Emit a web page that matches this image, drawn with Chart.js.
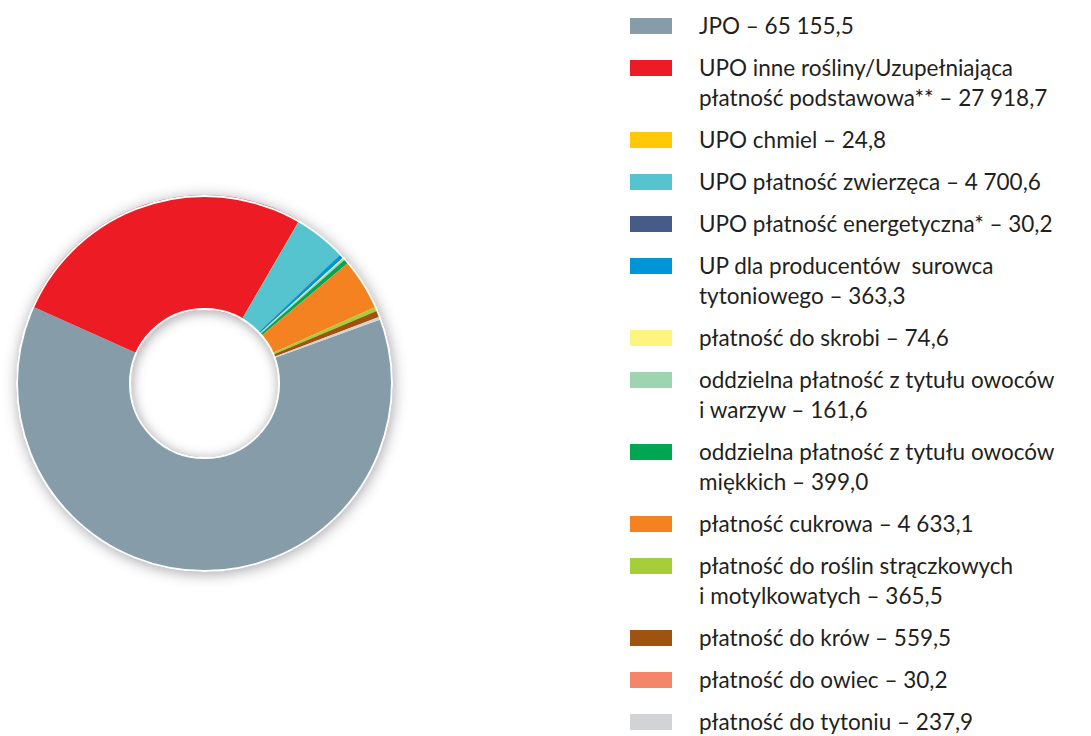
<!DOCTYPE html>
<html lang="pl">
<head>
<meta charset="utf-8">
<script src="https://cdn.jsdelivr.net/npm/chart.js@4/dist/chart.umd.min.js"></script>
<style>
  html, body { margin: 0; padding: 0; background: #ffffff; }
  body { width: 1091px; height: 736px; position: relative; overflow: hidden; }
  #chartBox { position: absolute; left: 0; top: 170px; width: 420px; height: 430px; }
  #legend { position: absolute; left: 630px; top: 11px; font-family: Lato, sans-serif; font-size: 22.5px; color: #231f20; }
  .item { display: flex; align-items: flex-start; margin-bottom: 12px; }
  .swatch { width: 42px; height: 16px; margin-top: 7px; flex: none; }
  .text { margin-left: 27px; line-height: 30px; white-space: pre; }
</style>
</head>
<body>
<div id="chartBox"><canvas id="chart"></canvas></div>
<div id="legend"></div>
<script>
// Data
const labels = [
  'JPO',
  'UPO inne rośliny/Uzupełniająca\npłatność podstawowa**',
  'UPO chmiel',
  'UPO płatność zwierzęca',
  'UPO płatność energetyczna*',
  'UP dla producentów  surowca\ntytoniowego',
  'płatność do skrobi',
  'oddzielna płatność z tytułu owoców\ni warzyw',
  'oddzielna płatność z tytułu owoców\nmiękkich',
  'płatność cukrowa',
  'płatność do roślin strączkowych\ni motylkowatych',
  'płatność do krów',
  'płatność do owiec',
  'płatność do tytoniu',
];
const values = [65155.5, 27918.7, 24.8, 4700.6, 30.2, 363.3, 74.6, 161.6, 399.0, 4633.1, 365.5, 559.5, 30.2, 237.9];
const colors = [
  '#869ca9', '#ed1c24', '#ffc907', '#56c4cf', '#465b87', '#0095d6', '#fff480',
  '#9ed5b0', '#00a651', '#f58220', '#a6ce39', '#a0520f', '#f4856a', '#d1d3d4',
];

// Formats a value in the Polish style (e.g. 65155.5 -> 65 155,5)
function formatValue(v) {
  const [intPart, decPart] = v.toFixed(1).split('.');
  return intPart.replace(/\B(?=(\d{3})+(?!\d))/g, ' ') + ',' + decPart;
}

// HTML legend
const legend = document.getElementById('legend');
labels.forEach((label, i) => {
  const item = document.createElement('div');
  item.className = 'item';
  const swatch = document.createElement('div');
  swatch.className = 'swatch';
  swatch.style.background = colors[i];
  const text = document.createElement('div');
  text.className = 'text';
  text.textContent = label + ' – ' + formatValue(values[i]);
  item.appendChild(swatch);
  item.appendChild(text);
  legend.appendChild(item);
});

// Shadow behind the ring and white edges on top of it
const ringDecor = {
  id: 'ringDecor',
  beforeDatasetsDraw(chart) {
    const arc = chart.getDatasetMeta(0).data[0];
    const { ctx } = chart;
    ctx.save();
    ctx.shadowColor = 'rgba(60, 60, 70, 0.45)';
    ctx.shadowBlur = 14;
    ctx.shadowOffsetX = 1;
    ctx.shadowOffsetY = 2;
    ctx.fillStyle = '#ffffff';
    ctx.beginPath();
    ctx.arc(arc.x, arc.y, arc.outerRadius, 0, Math.PI * 2);
    ctx.fill();
    ctx.restore();
  },
  afterDatasetsDraw(chart) {
    const arc = chart.getDatasetMeta(0).data[0];
    const { ctx } = chart;
    ctx.save();
    // inner shadow of the hole
    ctx.beginPath();
    ctx.arc(arc.x, arc.y, arc.innerRadius, 0, Math.PI * 2);
    ctx.clip();
    ctx.fillStyle = '#ffffff';
    ctx.fill();
    ctx.shadowColor = 'rgba(60, 60, 70, 0.5)';
    ctx.shadowBlur = 12;
    ctx.shadowOffsetX = 1;
    ctx.shadowOffsetY = 2;
    ctx.lineWidth = 10;
    ctx.strokeStyle = '#ffffff';
    ctx.beginPath();
    ctx.arc(arc.x, arc.y, arc.innerRadius + 5, 0, Math.PI * 2);
    ctx.stroke();
    ctx.restore();

    ctx.save();
    ctx.strokeStyle = '#ffffff';
    ctx.lineWidth = 2;
    ctx.beginPath();
    ctx.arc(arc.x, arc.y, arc.outerRadius - 1, 0, Math.PI * 2);
    ctx.stroke();
    ctx.beginPath();
    ctx.arc(arc.x, arc.y, arc.innerRadius + 1, 0, Math.PI * 2);
    ctx.stroke();
    ctx.restore();
  },
};

new Chart(document.getElementById('chart'), {
  type: 'doughnut',
  data: {
    labels: labels,
    datasets: [{
      data: values,
      backgroundColor: colors,
      borderWidth: 0,
    }],
  },
  options: {
    responsive: true,
    maintainAspectRatio: false,
    animation: false,
    rotation: 70,
    cutout: '39%',
    layout: { padding: { left: 16, right: 27, top: 25, bottom: 28 } },
    plugins: {
      legend: { display: false },
      tooltip: { enabled: false },
    },
  },
  plugins: [ringDecor],
});
</script>
</body>
</html>
